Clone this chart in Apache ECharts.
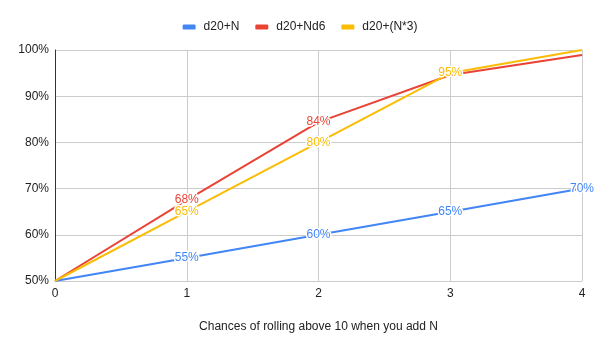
<!DOCTYPE html>
<html><head><meta charset="utf-8">
<script src="https://cdn.jsdelivr.net/npm/echarts@6/dist/echarts.min.js"></script>
<style>html,body{margin:0;padding:0;background:#fff}#c{width:600px;height:351px}</style>
</head><body><div id="c"></div>
<script>
const categories = ['0', '1', '2', '3', '4'];
const seriesNames = ['d20+N', 'd20+Nd6', 'd20+(N*3)'];
const valuesN = [50, 55, 60, 65, 70];
const valuesNd6 = [50, 67.5, 84.4, 94.6, 98.9];
const valuesN3 = [50, 65, 80, 95, 100];
const labelShowN = [false, true, true, true, true];
const labelShowNd6 = [false, true, true, false, false];
const labelShowN3 = [false, true, true, true, false];
const yTicks = [50, 60, 70, 80, 90, 100];
const colors = ['#4285F4', '#EA4335', '#FBBC04'];
const FONT = '"Liberation Sans", Arial, sans-serif';

function mk(name, vals, shows, color, z) {
  return {
    name: name, type: 'line', showSymbol: true, symbol: 'circle', symbolSize: 0, z: z,
    lineStyle: { width: 2, color: color }, itemStyle: { color: color },
    data: vals.map((v, i) => ({
      value: v,
      label: { show: shows[i] }
    })),
    label: {
      position: 'inside', color: color, fontSize: 12, fontFamily: FONT,
      textBorderColor: '#fff', textBorderWidth: 3,
      formatter: p => Math.round(p.value) + '%'
    },
    labelLayout: { hideOverlap: false },
    emphasis: { disabled: true }
  };
}

const chart = echarts.init(document.getElementById('c'), null, { renderer: 'canvas' });
chart.setOption({
  animation: false,
  color: colors,
  legend: {
    top: 16, left: 'center', itemWidth: 13, itemHeight: 5, itemGap: 16,
    icon: 'roundRect',
    textStyle: { color: '#222', fontSize: 12, fontFamily: FONT, padding: [0, 0, 0, 3] },
    data: seriesNames
  },
  grid: { left: 55, right: 18, top: 50, bottom: 70, containLabel: false },
  xAxis: {
    type: 'category', data: categories, boundaryGap: false,
    name: 'Chances of rolling above 10 when you add N', nameLocation: 'middle', nameGap: 40,
    nameTextStyle: { color: '#222', fontSize: 12, fontFamily: FONT },
    axisLine: { show: true, lineStyle: { color: '#ccc', width: 1 } },
    axisTick: { show: false },
    axisLabel: { color: '#222', fontSize: 12, fontFamily: FONT, margin: 7 },
    splitLine: { show: true, lineStyle: { color: '#ccc', width: 1 } }
  },
  yAxis: {
    type: 'value', min: yTicks[0], max: yTicks[yTicks.length - 1], interval: 10,
    axisLine: { show: true, lineStyle: { color: '#333', width: 1 } },
    axisTick: { show: false },
    axisLabel: { color: '#222', fontSize: 12, fontFamily: FONT, margin: 6, formatter: v => v + '%' },
    splitLine: { show: true, lineStyle: { color: '#ccc', width: 1 } }
  },
  series: [
    mk(seriesNames[0], valuesN, labelShowN, colors[0], 3),
    mk(seriesNames[1], valuesNd6, labelShowNd6, colors[1], 2),
    mk(seriesNames[2], valuesN3, labelShowN3, colors[2], 4)
  ]
});
</script></body></html>
